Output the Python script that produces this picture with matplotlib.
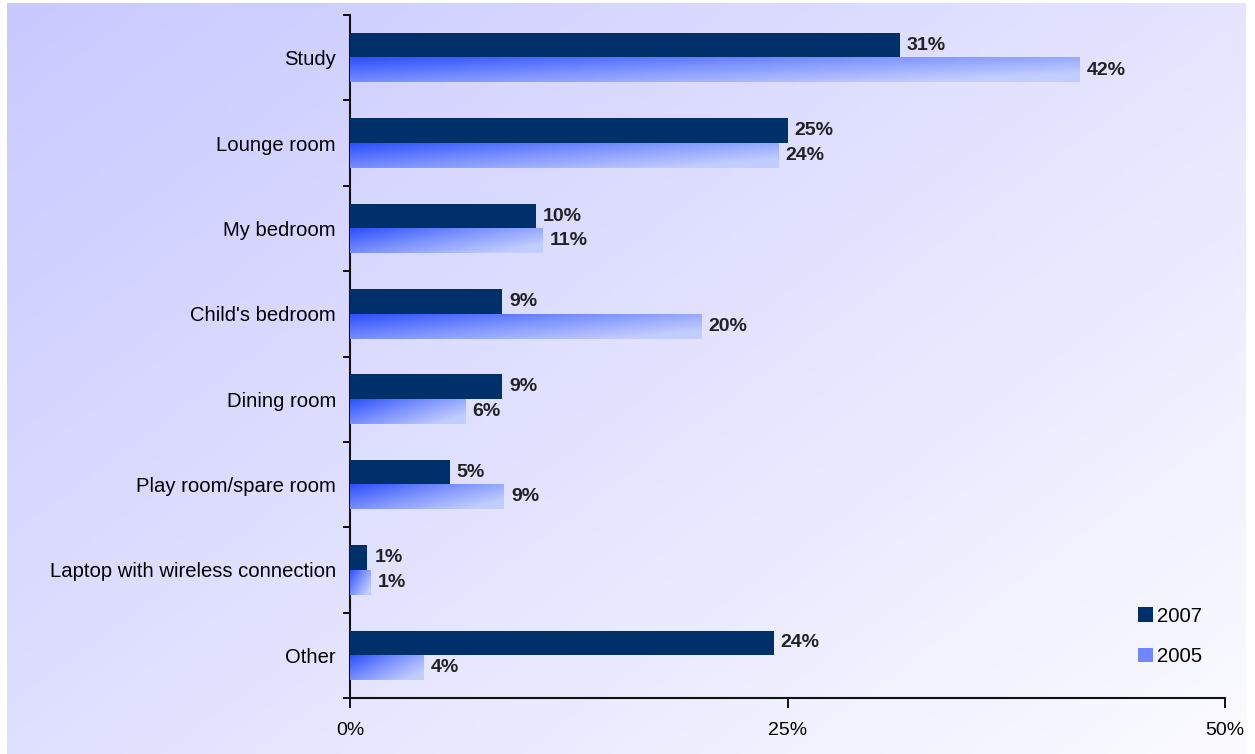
import numpy as np
import matplotlib
matplotlib.use('Agg')
import matplotlib.pyplot as plt
from matplotlib.colors import LinearSegmentedColormap
from matplotlib.patches import Patch

plt.rcParams['font.family'] = ['Liberation Sans', 'DejaVu Sans']

categories = ['Study', 'Lounge room', 'My bedroom', "Child's bedroom",
              'Dining room', 'Play room/spare room',
              'Laptop with wireless connection', 'Other']
vals_2007 = [31.4, 25.0, 10.6, 8.7, 8.7, 5.7, 1.0, 24.2]
vals_2005 = [41.7, 24.5, 11.0, 20.1, 6.6, 8.8, 1.2, 4.2]
labels_2007 = ['31%', '25%', '10%', '9%', '9%', '5%', '1%', '24%']
labels_2005 = ['42%', '24%', '11%', '20%', '6%', '9%', '1%', '4%']
xticks = [0, 25, 50]
xticklabels = ['0%', '25%', '50%']

dark = '#00306a'
bar_cmap = LinearSegmentedColormap.from_list('b05', ['#2e50ff', '#7d93ff', '#c2cdff'])
bg_cmap = LinearSegmentedColormap.from_list('bg', ['#c9c9ff', '#e2e2ff', '#fbfbff'])

fig = plt.figure(figsize=(12.55, 7.54), dpi=100)

# background gradient
bg = fig.add_axes([7/1255, 0, 1239/1255, 751/754], zorder=0)
gx, gy = np.meshgrid(np.linspace(0, 1, 300), np.linspace(0, 1, 200))
bg.imshow(0.55*gx + 0.45*gy, cmap=bg_cmap, aspect='auto', extent=[0, 1, 1, 0])
bg.axis('off')

ax = fig.add_axes([350/1255, 56/754, 875/1255, 683/754], zorder=1)
ax.set_facecolor('none')

n = len(categories)
h = 0.29
ys = np.arange(n)
ax.barh(ys - h/2, vals_2007, height=h, color=dark, zorder=3)

# 2005 bars with gradient fill
gxx, gyy = np.meshgrid(np.linspace(0, 1, 100), np.linspace(0, 1, 20))
grad = np.clip(0.7*gxx + 0.45*gyy, 0, 1)
for y, v in zip(ys, vals_2005):
    ax.imshow(grad, cmap=bar_cmap, aspect='auto', interpolation='bilinear',
              extent=[0, v, y + h, y], zorder=3)

for y, v, t in zip(ys, vals_2007, labels_2007):
    ax.text(v + 0.4, y - h/2, t, va='center', ha='left', fontsize=14,
            fontweight='bold', color='#222222')
for y, v, t in zip(ys, vals_2005, labels_2005):
    ax.text(v + 0.4, y + h/2, t, va='center', ha='left', fontsize=14,
            fontweight='bold', color='#222222')

ax.set_xlim(0, 50)
ax.set_ylim(n - 0.5, -0.5)
ax.set_xticks(xticks)
ax.set_xticklabels(xticklabels, fontsize=14)
ax.set_yticks(ys)
ax.set_yticklabels(categories, fontsize=14.6)
ax.set_yticks(np.arange(n + 1) - 0.5, minor=True)
ax.tick_params(axis='y', which='major', length=0, pad=10)
ax.tick_params(axis='y', which='minor', length=5, width=1.3, direction='out')
ax.tick_params(axis='x', length=7, width=1.3, direction='out', pad=10)
for s in ['top', 'right']:
    ax.spines[s].set_visible(False)
for s in ['left', 'bottom']:
    ax.spines[s].set_linewidth(1.5)
    ax.spines[s].set_color('#111111')

handles = [Patch(facecolor=dark, label='2007'), Patch(facecolor='#6f88ff', label='2005')]
ax.legend(handles=handles, loc='lower right', bbox_to_anchor=(0.995, 0.02),
          frameon=False, fontsize=14.6, handlelength=0.75, handleheight=0.75,
          handletextpad=0.2, labelspacing=1.05)

fig.savefig('out.png', dpi=100)
